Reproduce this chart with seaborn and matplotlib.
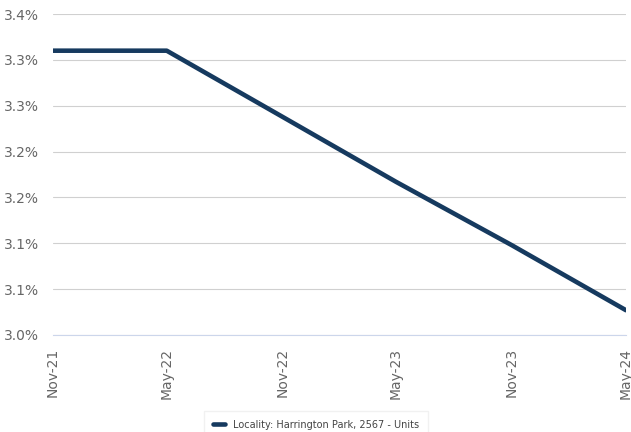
import matplotlib
matplotlib.use("Agg")
import matplotlib.pyplot as plt
import pandas as pd
import seaborn as sns
from matplotlib.ticker import FuncFormatter, MultipleLocator

# Values
dates = ["2021-11-01", "2022-05-01", "2022-11-01", "2023-05-01", "2023-11-01", "2024-05-01"]
values = [3.310, 3.310, 3.238, 3.167, 3.098, 3.027]
series_name = "Locality: Harrington Park, 2567 - Units"
tick_labels = ["Nov-21", "May-22", "Nov-22", "May-23", "Nov-23", "May-24"]

df = pd.DataFrame({"Date": pd.to_datetime(dates), "Value": values, "Series": series_name})

sns.set_style("white")
plt.rcParams["font.family"] = ["DejaVu Sans"]

fig = plt.figure(figsize=(6.31, 4.32), dpi=100)
ax = fig.add_axes([53 / 631, 1 - 335 / 432, (626 - 53) / 631, (335 - 14) / 432])

sns.lineplot(data=df, x="Date", y="Value", hue="Series", palette=["#163a5f"],
             linewidth=3.3, ax=ax, legend=True)


# round half up, like the source chart
def pct_formatter(x, pos):
    return f"{round(x + 1e-9, 1):.1f}%"


ax.set_ylim(3.0, 3.35)
ax.yaxis.set_major_locator(MultipleLocator(0.05))
ax.yaxis.set_major_formatter(FuncFormatter(pct_formatter))
ax.grid(True, axis="y", color="#d0d0d0", linewidth=0.8)
ax.set_xlim(df["Date"].iloc[0], df["Date"].iloc[-1])
ax.set_xticks(df["Date"])
ax.set_xticklabels(tick_labels, rotation=90)
ax.set_xlabel("")
ax.set_ylabel("")

for side in ["top", "right", "left"]:
    ax.spines[side].set_visible(False)
ax.spines["bottom"].set_color("#ccd6eb")
ax.tick_params(axis="x", colors="#ccd6eb", length=6, labelcolor="#666666", labelsize=10)
ax.tick_params(axis="y", length=0, labelcolor="#666666", labelsize=10, pad=10)

handles, labels = ax.get_legend_handles_labels()
ax.legend(handles, labels, loc="upper center", bbox_to_anchor=(316 / 631, 1 - 406 / 432),
          bbox_transform=fig.transFigure, fontsize=7, frameon=True, fancybox=False,
          edgecolor="#eeeeee", handlelength=1.2, borderpad=0.9, labelcolor="#444444")

fig.savefig("out.png", dpi=100)
